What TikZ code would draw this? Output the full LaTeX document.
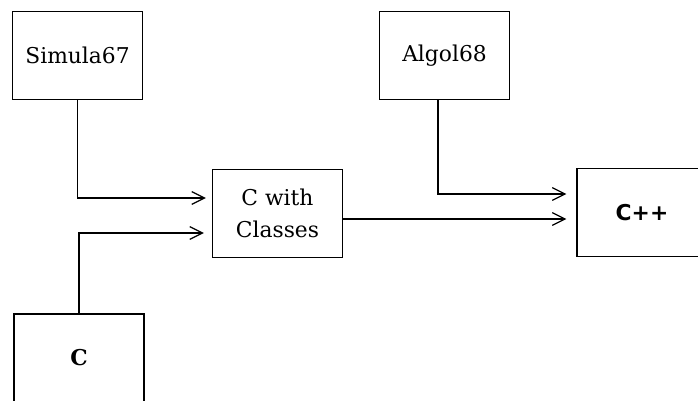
\documentclass[tikz,border=0pt]{standalone}
\usepackage{fontspec}
\setmainfont{DejaVu Serif}
\setsansfont{DejaVu Sans}
\usetikzlibrary{arrows.meta, positioning, calc}

\tikzset{lang/.style={draw, line width=0.9pt, minimum width=3.25cm, minimum height=2.2cm, inner sep=0pt, align=center, font=\fontsize{15.5}{19}\selectfont}}

\begin{document}
\begin{tikzpicture}[x=0.025cm, y=-0.025cm, >={Straight Barb[length=9pt,width=9pt]}, line width=0.9pt]
      \clip (0,0) rectangle (698,401);

      \node[lang] (sim) at (77.5,55.5) {Simula67};
      \node[lang] (alg) at (444.5,55.5) {Algol68};
      \node[lang] (cwc) at (277.5,213.5) {C with\\[4pt]Classes};
      \node[lang] (cpp) at (642,212.5) {\sffamily\bfseries C++};
      \node[lang] (c) at (79,358) {\bfseries C};

      \draw[->] (sim.south) |- ($(cwc.west)+(-6,-15.5)$);
      \draw[->] (c.north) |- ($(cwc.west)+(-8,19.5)$);
      \draw[->] ($(alg.south)+(-6.5,0)$) |- ($(cpp.west)+(-10,-18.5)$);
      \draw[->] ($(cwc.east)+(0,5.5)$) -- ($(cpp.west)+(-10,6.5)$);

    \end{tikzpicture}
\end{document}
